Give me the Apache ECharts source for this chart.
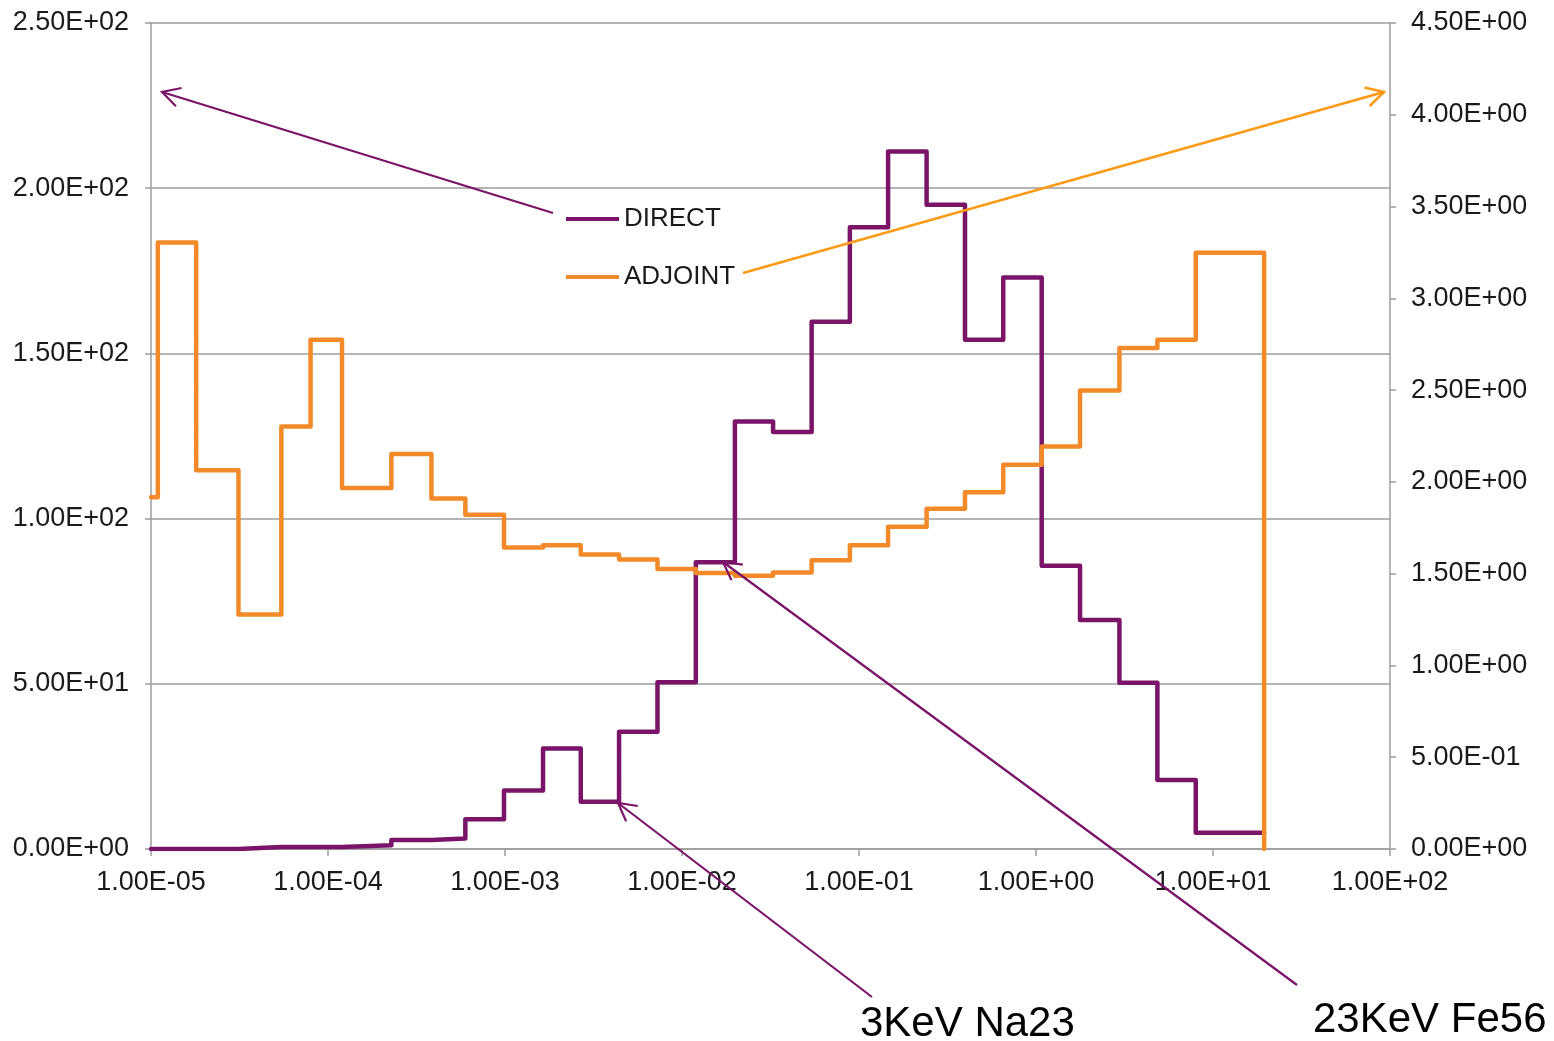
<!DOCTYPE html>
<html>
<head>
<meta charset="utf-8">
<script src="https://cdn.jsdelivr.net/npm/echarts@6/dist/echarts.min.js"></script>
<style>
html,body{margin:0;padding:0;background:#fff;}
#chart{width:1554px;height:1041px;}
</style>
</head>
<body>
<div id="chart"></div>
<script>
// ---- data (energy group edges in MeV, group values) ----
const energyEdges = [1.0e-5, 1.093e-5, 1.80e-5, 3.12e-5, 5.45e-5, 7.97e-5, 1.20e-4, 2.28e-4, 3.84e-4, 5.97e-4,
  9.87e-4, 1.64e-3, 2.68e-3, 4.41e-3, 7.27e-3, 1.197e-2, 1.99e-2, 3.27e-2, 5.40e-2, 8.88e-2,
  0.146, 0.241, 0.397, 0.653, 1.077, 1.773, 2.96, 4.85, 7.99, 19.45];
const directValues = [0, 0, 0, 0.6, 0.6, 0.6, 1.1, 2.7, 3.2, 9.0,
  17.7, 30.4, 14.3, 35.5, 50.5, 86.8, 129.4, 126.2, 159.6, 188.2,
  211.1, 195.0, 154.1, 173.0, 85.7, 69.3, 50.3, 20.9, 4.9];
const adjointValues = [1.916, 3.304, 2.063, 1.277, 2.302, 2.774, 1.967, 2.152, 1.909, 1.821,
  1.642, 1.655, 1.604, 1.577, 1.526, 1.504, 1.489, 1.507, 1.573, 1.655,
  1.755, 1.853, 1.943, 2.093, 2.193, 2.498, 2.730, 2.775, 3.248];
const xTickLabels = ['1.00E-05','1.00E-04','1.00E-03','1.00E-02','1.00E-01','1.00E+00','1.00E+01','1.00E+02'];
const leftTickLabels = ['0.00E+00','5.00E+01','1.00E+02','1.50E+02','2.00E+02','2.50E+02'];
const rightTickLabels = ['0.00E+00','5.00E-01','1.00E+00','1.50E+00','2.00E+00','2.50E+00','3.00E+00','3.50E+00','4.00E+00','4.50E+00'];
const seriesNames = ['DIRECT', 'ADJOINT'];
const annotations = ['3KeV Na23', '23KeV Fe56'];

function stepPoints(edges, vals, dropToZero) {
  const pts = vals.map((v, i) => [edges[i], v]);
  pts.push([edges[edges.length - 1], vals[vals.length - 1]]);
  if (dropToZero) pts.push([edges[edges.length - 1], 0]);
  return pts;
}

const PURPLE = '#7a1468';
const ORANGE = '#f28a29';
const ARROW_ORANGE = '#ff9a17';
const FONT = "'Liberation Sans', Arial, sans-serif";

function arrow(x1, y1, x2, y2, color, w) {
  const ang = Math.atan2(y1 - y2, x1 - x2);
  const L = 20, a = 0.5;
  const h1 = [x2 + L * Math.cos(ang + a), y2 + L * Math.sin(ang + a)];
  const h2 = [x2 + L * Math.cos(ang - a), y2 + L * Math.sin(ang - a)];
  return [
    { type: 'line', z: 100, shape: { x1: x1, y1: y1, x2: x2, y2: y2 }, style: { stroke: color, lineWidth: w } },
    { type: 'polyline', z: 100, shape: { points: [h1, [x2, y2], h2] }, style: { stroke: color, lineWidth: w, fill: null } }
  ];
}

const chart = echarts.init(document.getElementById('chart'), null, { renderer: 'canvas' });
const gridColor = '#9c9c9c';
const labelStyle = { color: '#1a1a1a', fontSize: 27, fontFamily: FONT };

const option = {
  animation: false,
  backgroundColor: '#fff',
  grid: { left: 151, right: 164, top: 23, bottom: 192, containLabel: false, outerBoundsMode: 'none' },
  legend: {
    orient: 'vertical', left: 561, top: 199,
    itemWidth: 53, itemHeight: 4, itemGap: 28, icon: 'rect',
    data: seriesNames,
    textStyle: { color: '#1a1a1a', fontSize: 26, fontFamily: FONT, lineHeight: 30 }
  },
  xAxis: {
    type: 'log', logBase: 10, min: 1e-5, max: 1e2, interval: 1, splitNumber: 7,
    axisLine: { lineStyle: { color: gridColor, width: 1.5 } },
    axisTick: { show: true, inside: false, length: 7, lineStyle: { color: gridColor, width: 1.5 } },
    minorTick: { show: false },
    splitLine: { show: false },
    axisLabel: Object.assign({ margin: 20, formatter: function (v) {
      const e = Math.round(Math.log10(v));
      return xTickLabels[e + 5] || '';
    } }, labelStyle)
  },
  yAxis: [
    {
      type: 'value', min: 0, max: 250, interval: 50, position: 'left',
      axisLine: { show: true, lineStyle: { color: gridColor, width: 1.5 } },
      axisTick: { show: true, inside: false, length: 6, lineStyle: { color: gridColor, width: 1.5 } },
      splitLine: { show: true, lineStyle: { color: gridColor, width: 1.5 } },
      axisLabel: Object.assign({ margin: 22, formatter: function (v) {
        return leftTickLabels[Math.round(v / 50)];
      } }, labelStyle)
    },
    {
      type: 'value', min: 0, max: 4.5, interval: 0.5, position: 'right',
      axisLine: { show: true, lineStyle: { color: gridColor, width: 1.5 } },
      axisTick: { show: true, inside: false, length: 6, lineStyle: { color: gridColor, width: 1.5 } },
      splitLine: { show: false },
      axisLabel: Object.assign({ margin: 21, formatter: function (v) {
        return rightTickLabels[Math.round(v / 0.5)];
      } }, labelStyle)
    }
  ],
  series: [
    {
      name: seriesNames[0], type: 'line', yAxisIndex: 0, step: 'end',
      symbol: 'none', color: PURPLE,
      lineStyle: { color: PURPLE, width: 4.5, join: 'round', cap: 'round' },
      data: stepPoints(energyEdges, directValues, false), z: 3
    },
    {
      name: seriesNames[1], type: 'line', yAxisIndex: 1, step: 'end',
      symbol: 'none', color: ORANGE,
      lineStyle: { color: ORANGE, width: 4.5, join: 'round', cap: 'round' },
      data: stepPoints(energyEdges, adjointValues, true), z: 4
    }
  ],
  graphic: [].concat(
    arrow(553, 213, 162, 92, PURPLE, 2.2),
    arrow(743, 273, 1384, 92, ARROW_ORANGE, 2.5),
    arrow(872, 997, 618, 803, PURPLE, 2.2),
    arrow(1297, 985, 723, 562, PURPLE, 2.2),
    [
      { type: 'text', z: 100, left: 860, top: 1003, style: { text: annotations[0], fill: '#000', font: "42px 'Liberation Sans', Arial, sans-serif" } },
      { type: 'text', z: 100, left: 1313, top: 999, style: { text: annotations[1], fill: '#000', font: "42px 'Liberation Sans', Arial, sans-serif" } }
    ]
  )
};
chart.setOption(option);
</script>
</body>
</html>
